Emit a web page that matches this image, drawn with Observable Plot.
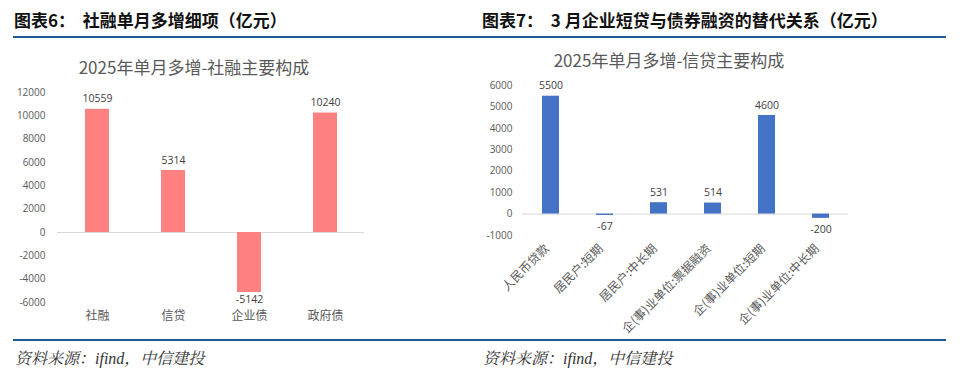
<!DOCTYPE html>
<html><head><meta charset="utf-8">
<script src="https://cdn.jsdelivr.net/npm/d3@7"></script>
<script src="https://cdn.jsdelivr.net/npm/@observablehq/plot@0.6"></script>
<style>
body{margin:0;background:#fff;}
#page{position:relative;width:960px;height:373px;overflow:hidden;font-family:"Noto Sans CJK SC",sans-serif;}
.h{position:absolute;top:7px;font-size:17px;font-weight:bold;color:#111;white-space:pre;}
.rule{position:absolute;height:2px;background:#1F5A8E;}
.ct{position:absolute;font-size:17px;color:#595959;transform:translateX(-50%);white-space:nowrap;}
.src{position:absolute;top:346px;font-family:"Liberation Serif","Noto Serif CJK SC",serif;font-style:italic;font-size:16px;color:#333;}
.chart{position:absolute;}
</style></head><body>
<div id="page">
  <div class="h" style="left:14px">图表6：  社融单月多增细项（亿元）</div>
  <div class="rule" style="left:13px;width:467px;top:36px"></div>
  <div class="ct" style="left:194px;top:54px">2025年单月多增-社融主要构成</div>
  <div class="chart" id="c1" style="left:0px;top:80px"></div>
  <div class="rule" style="left:13px;width:467px;top:339px"></div>
  <div class="src" style="left:15px">资料来源：ifind，中信建投</div>

  <div class="h" style="left:482px">图表7：  3 月企业短贷与债券融资的替代关系（亿元）</div>
  <div class="rule" style="left:480px;width:466px;top:36px"></div>
  <div class="ct" style="left:669px;top:47px">2025年单月多增-信贷主要构成</div>
  <div class="chart" id="c2" style="left:480px;top:70px"></div>
  <div class="rule" style="left:480px;width:466px;top:339px"></div>
  <div class="src" style="left:483px">资料来源：ifind，中信建投</div>
</div>
<script>
// Left chart data
const tsfCategories = ["社融", "信贷", "企业债", "政府债"];
const tsfValues = [10559, 5314, -5142, 10240];
const tsfTicks = [-6000, -4000, -2000, 0, 2000, 4000, 6000, 8000, 10000, 12000];

// Right chart data
const loanCategories = ["人民币贷款", "居民户:短期", "居民户:中长期", "企(事)业单位:票据融资", "企(事)业单位:短期", "企(事)业单位:中长期"];
const loanValues = [5500, -67, 531, 514, 4600, -200];
const loanTicks = [-1000, 0, 1000, 2000, 3000, 4000, 5000, 6000];

const tsf = tsfCategories.map((c, i) => ({c, v: tsfValues[i]}));
const loans = loanCategories.map((c, i) => ({c, v: loanValues[i]}));

const numFont = "Open Sans, sans-serif";

const c1 = Plot.plot({
  width: 380, height: 252,
  marginTop: 12, marginBottom: 30, marginLeft: 57, marginRight: 16,
  style: {fontFamily: numFont, fontSize: "10px", color: "#595959", background: "transparent"},
  x: {domain: tsfCategories, paddingInner: 0.69, paddingOuter: 0.345, label: null},
  y: {domain: [-6000, 12000], label: null},
  marks: [
    Plot.axisY({ticks: tsfTicks, tickSize: 0, tickPadding: 12, tickFormat: d => String(d), fontSize: 10, fill: "#595959"}),
    Plot.axisX({tickSize: 0, tickPadding: 9, fontFamily: "Noto Sans CJK SC", fontSize: 12, fill: "#595959"}),
    Plot.ruleY([0], {stroke: "#d9d9d9", strokeWidth: 1}),
    Plot.barY(tsf, {x: "c", y: "v", fill: "#FF8080"}),
    Plot.text(tsf.filter(d => d.v >= 0), {x: "c", y: "v", text: d => String(d.v), dy: -7, lineAnchor: "bottom", fill: "#404040", fontSize: 10.5}),
    Plot.text(tsf.filter(d => d.v < 0), {x: "c", y: "v", text: d => String(d.v), dy: 3, lineAnchor: "top", fill: "#404040", fontSize: 10.5})
  ]
});
document.getElementById("c1").append(c1);

const c2 = Plot.plot({
  width: 390, height: 270,
  marginTop: 15, marginBottom: 105, marginLeft: 42, marginRight: 22,
  style: {fontFamily: numFont, fontSize: "10px", color: "#595959", background: "transparent"},
  x: {domain: loanCategories, paddingInner: 0.69, paddingOuter: 0.345, label: null},
  y: {domain: [-1000, 6000], label: null},
  marks: [
    Plot.axisY({ticks: loanTicks, tickSize: 0, tickPadding: 10, tickFormat: d => String(d), fontSize: 10, fill: "#595959"}),
    Plot.axisX({tickSize: 0, tickPadding: 11, dx: -4, tickRotate: -45, fontFamily: "Noto Sans CJK SC", fontSize: 12, fill: "#595959"}),
    Plot.ruleY([0], {stroke: "#d9d9d9", strokeWidth: 1}),
    Plot.barY(loans, {x: "c", y: "v", fill: "#4472C4"}),
    Plot.text(loans.filter(d => d.v >= 0), {x: "c", y: "v", text: d => String(d.v), dy: -7, lineAnchor: "bottom", fill: "#404040", fontSize: 10.5}),
    Plot.text(loans.filter(d => d.v < 0), {x: "c", y: "v", text: d => String(d.v), dy: 7, lineAnchor: "top", fill: "#404040", fontSize: 10.5})
  ]
});
document.getElementById("c2").append(c2);
</script>
</body></html>
